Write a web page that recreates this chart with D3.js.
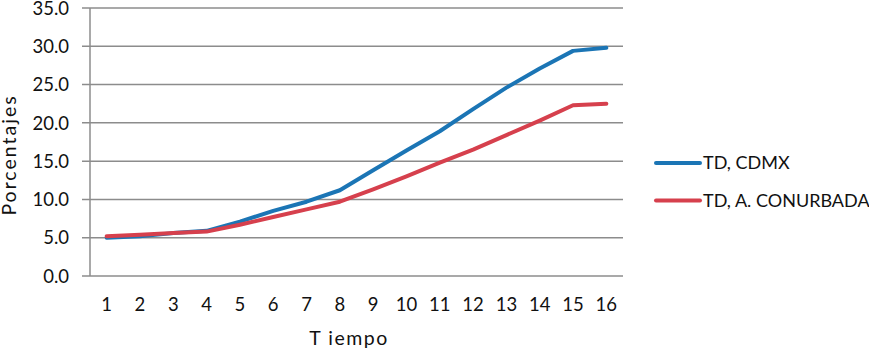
<!DOCTYPE html>
<html>
<head>
<meta charset="utf-8">
<script src="https://cdn.jsdelivr.net/npm/d3@7/dist/d3.min.js"></script>
<style>
body { margin: 0; background: #fff; }
text { font-family: Lato, "Open Sans", sans-serif; fill: #111; }
.grid line { stroke: #8c8c8c; stroke-width: 1.5; }
.line { fill: none; stroke-width: 4; stroke-linejoin: round; stroke-linecap: round; }
</style>
</head>
<body>
<div id="chart"></div>
<script>
// datos
var periods = d3.range(1, 17);
var cdmx = [5.0, 5.2, 5.6, 5.9, 7.1, 8.5, 9.7, 11.2, 13.8, 16.4, 18.9, 21.8, 24.6, 27.1, 29.4, 29.8];
var conurbada = [5.2, 5.4, 5.6, 5.8, 6.7, 7.7, 8.7, 9.7, 11.3, 13.0, 14.8, 16.5, 18.4, 20.3, 22.3, 22.5];
var yTicks = [0, 5, 10, 15, 20, 25, 30, 35];

var series = [
  {name: "TD, CDMX", values: cdmx, color: "#1b75b5"},
  {name: "TD, A. CONURBADA", values: conurbada, color: "#d6404d"}
];

var width = 869, height = 352;
var mLeft = 90, mRight = 623, mTop = 8, mBottom = 276;

var svg = d3.select("#chart").append("svg")
    .attr("width", width)
    .attr("height", height);

var x = d3.scaleBand().domain(periods).range([mLeft, mRight]);
var y = d3.scaleLinear().domain([0, 35]).range([mBottom, mTop]);

// lineas de la cuadricula
svg.append("g").attr("class", "grid")
  .selectAll("line").data(yTicks).enter().append("line")
    .attr("x1", mLeft - 8).attr("x2", mRight)
    .attr("y1", d => y(d)).attr("y2", d => y(d));

// eje vertical
svg.append("line")
    .attr("x1", mLeft).attr("x2", mLeft)
    .attr("y1", mTop).attr("y2", mBottom)
    .attr("stroke", "#8c8c8c").attr("stroke-width", 1.5);

svg.append("g").selectAll("text").data(yTicks).enter().append("text")
    .attr("x", mLeft - 21)
    .attr("y", d => y(d))
    .attr("dy", "0.36em")
    .attr("text-anchor", "end")
    .style("font-size", "18.5px")
    .text(d => d.toFixed(1));

svg.append("g").selectAll("text").data(periods).enter().append("text")
    .attr("x", d => x(d) + x.bandwidth() / 2)
    .attr("y", 304)
    .attr("dy", "0.36em")
    .attr("text-anchor", "middle")
    .style("font-size", "18.5px")
    .text(d => d);

svg.append("text")
    .attr("x", 349)
    .attr("y", 338)
    .attr("dy", "0.36em")
    .attr("text-anchor", "middle")
    .style("font-size", "19.5px")
    .style("letter-spacing", "1.5px")
    .text("T iempo");

svg.append("text")
    .attr("transform", "translate(9,155)rotate(-90)")
    .attr("text-anchor", "middle")
    .attr("dy", "0.36em")
    .style("font-size", "19.5px")
    .style("letter-spacing", "2px")
    .text("Porcentajes");

var line = d3.line()
    .x((d, i) => x(periods[i]) + x.bandwidth() / 2)
    .y(d => y(d));

svg.append("g").selectAll("path").data(series).enter().append("path")
    .attr("class", "line")
    .attr("stroke", d => d.color)
    .attr("d", d => line(d.values));

// leyenda
var legend = svg.append("g").selectAll("g").data(series).enter().append("g")
    .attr("transform", (d, i) => "translate(656," + (163 + i * 37.5) + ")");
legend.append("line")
    .attr("x1", 0).attr("x2", 44)
    .attr("stroke", d => d.color)
    .attr("stroke-width", 4)
    .attr("stroke-linecap", "round");
legend.append("text")
    .attr("x", 47)
    .attr("dy", "0.36em")
    .style("font-size", "18px")
    .text(d => d.name);
</script>
</body>
</html>
